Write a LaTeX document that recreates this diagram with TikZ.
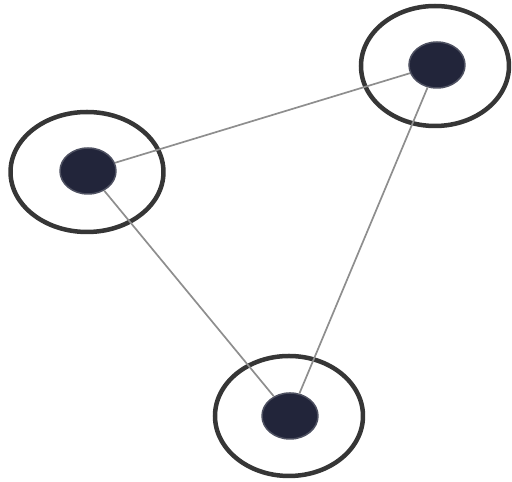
\documentclass[tikz,border=0pt]{standalone}
\usetikzlibrary{shapes.geometric}
\definecolor{ringgray}{HTML}{363636}
\definecolor{dotnavy}{HTML}{22253A}
\definecolor{linkgray}{HTML}{8E8E8E}

\begin{document}
\begin{tikzpicture}[
  x=0.1mm,
  y=-0.1mm,
  line join=round,
  ring/.style={ellipse,draw=ringgray,line width=0.45mm,inner sep=0pt,
    minimum width=14.8mm,minimum height=12.0mm},
  dot/.style={ellipse,fill=dotnavy,draw=dotnavy!80,line width=0.15mm,inner sep=0pt,
    minimum width=5.6mm,minimum height=4.6mm},
  link/.style={draw=linkgray,line width=0.17mm}
]
  % Keep the frame of the original image.
  \useasboundingbox (0,0) rectangle (512,482);

  % Outer rings around each vertex.
  \node[ring] (ringRight) at (435,66) {};
  \node[ring,minimum width=15.3mm] (ringLeft) at (87,172) {};
  \node[ring] (ringBottom) at (289,416) {};

  % Dark vertex dots.
  \node[dot] (right) at (437,65) {};
  \node[dot] (left) at (88,171) {};
  \node[dot] (bottom) at (290,416) {};

  % Edges of the triangle.
  \draw[link] (right) -- (left);
  \draw[link] (left) -- (bottom);
  \draw[link] (right) -- (bottom);
\end{tikzpicture}
\end{document}
